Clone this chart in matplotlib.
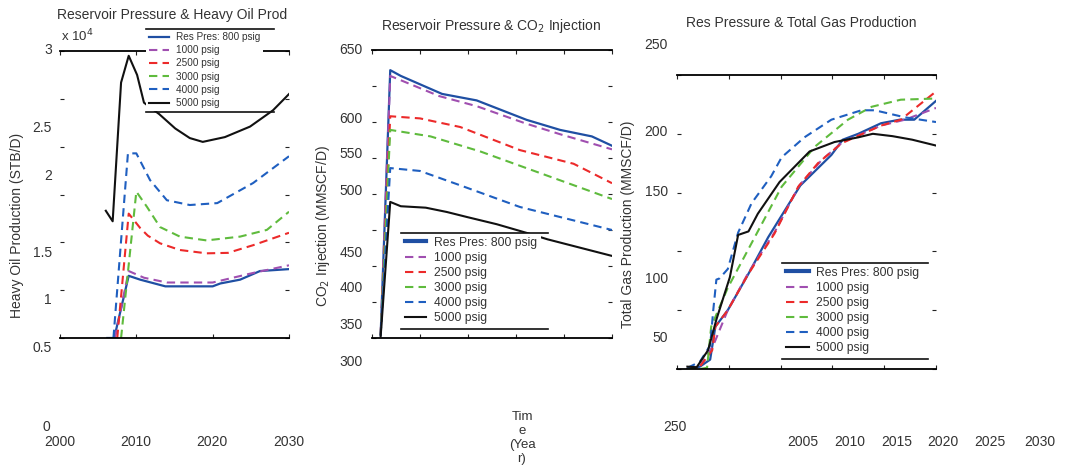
import matplotlib
matplotlib.use("Agg")
import matplotlib.pyplot as plt
from matplotlib.lines import Line2D

plt.rcParams['font.family'] = ['Liberation Sans', 'DejaVu Sans']
TXT = '#333333'

W, H = 1068, 466

# ---------------- data ----------------
labels = ['Res Pres: 800 psig', '1000 psig', '2500 psig', '3000 psig', '4000 psig', '5000 psig']
colors = ['#1f4fa3', '#a04fb0', '#ec2a2a', '#5fbb3d', '#1f5fc0', '#111111']
styles = ['-', '--', '--', '--', '--', '-']

# heavy oil production (x 10^4 STB/D)
oil_800_x = [2006.2, 2007.1, 2009.0, 2010.5, 2013.8, 2020.0, 2021.0, 2023.6, 2026.2, 2030.0]
oil_800_y = [0.0, 0.0, 0.65, 0.61, 0.54, 0.54, 0.57, 0.61, 0.70, 0.72]
oil_1000_x = [2007.2, 2009.0, 2011.0, 2014.0, 2020.0, 2025.3, 2030.0]
oil_1000_y = [0.0, 0.70, 0.63, 0.58, 0.58, 0.68, 0.76]
oil_2500_x = [2007.5, 2009.0, 2010.5, 2011.5, 2013.1, 2015.7, 2019.2, 2022.0, 2025.3, 2030.0]
oil_2500_y = [0.0, 1.30, 1.15, 1.07, 0.99, 0.92, 0.885, 0.89, 0.97, 1.10]
oil_3000_x = [2008.0, 2010.0, 2011.4, 2013.1, 2015.7, 2019.2, 2023.6, 2027.1, 2030.0]
oil_3000_y = [0.0, 1.53, 1.37, 1.16, 1.06, 1.02, 1.06, 1.13, 1.32]
oil_4000_x = [2007.0, 2008.9, 2010.0, 2011.8, 2014.0, 2017.0, 2020.6, 2025.3, 2030.0]
oil_4000_y = [0.0, 1.93, 1.93, 1.65, 1.44, 1.39, 1.41, 1.62, 1.90]
oil_5000_x = [2006.0, 2006.9, 2008.0, 2009.0, 2010.1, 2011.0, 2013.0, 2015.1, 2017.0,
              2018.7, 2021.6, 2024.9, 2027.9, 2030.0]
oil_5000_y = [1.33, 1.22, 2.67, 2.95, 2.75, 2.46, 2.34, 2.19, 2.09, 2.05, 2.10, 2.21, 2.38, 2.55]

# CO2 injection (MMSCF/D)
co2_800_x = [2005.9, 2006.9, 2008.0, 2012.3, 2015.9, 2021.1, 2024.6, 2027.9, 2030.0]
co2_800_y = [254, 622, 614, 589, 580, 553, 539, 530, 517]
co2_1000_x = [2005.9, 2006.9, 2008.0, 2012.0, 2015.9, 2021.0, 2024.6, 2030.0]
co2_1000_y = [254, 614, 608, 586, 572, 548, 533, 512]
co2_2500_x = [2005.9, 2006.9, 2010.0, 2014.2, 2020.4, 2026.0, 2030.0]
co2_2500_y = [254, 558, 555, 543, 511, 492, 465]
co2_3000_x = [2005.9, 2006.9, 2011.1, 2016.3, 2024.6, 2030.0]
co2_3000_y = [254, 539, 530, 509, 469, 443]
co2_4000_x = [2005.9, 2006.9, 2010.0, 2014.2, 2020.4, 2030.0]
co2_4000_y = [254, 486, 482, 462, 432, 400]
co2_5000_x = [2005.9, 2006.9, 2008.0, 2010.6, 2012.8, 2014.9, 2018.0, 2021.1, 2023.3, 2030.0]
co2_5000_y = [252, 439, 433, 431, 425, 418, 408, 396, 387, 364]

# total gas production (MMSCF/D)
gas_800_x = [2006.0, 2007.2, 2008.2, 2008.7, 2009.9, 2011.9, 2013.8, 2016.9, 2019.9,
             2021.0, 2022.5, 2024.7, 2026.5, 2027.9, 2030.0]
gas_800_y = [0, 2, 8, 36, 50, 81, 112, 156, 182, 195, 200, 209, 212, 212, 228]
gas_1000_x = [2006.0, 2007.2, 2008.5, 2009.9, 2011.9, 2014.4, 2016.8, 2019.0, 2021.0,
              2024.7, 2027.0, 2030.0]
gas_1000_y = [0, 2, 20, 50, 82, 116, 156, 178, 193, 207, 212, 222]
gas_2500_x = [2006.0, 2007.2, 2008.4, 2008.7, 2009.9, 2011.9, 2014.4, 2016.7, 2018.6,
              2020.9, 2024.7, 2026.6, 2030.0]
gas_2500_y = [0, 2, 16, 36, 50, 81, 115, 155, 175, 192, 207, 212, 236]
gas_3000_x = [2006.0, 2007.2, 2007.9, 2008.3, 2009.9, 2012.5, 2015.1, 2018.3, 2021.5,
              2023.8, 2026.6, 2030.0]
gas_3000_y = [0, 0, 1, 36, 69, 112, 155, 189, 212, 223, 229, 230]
gas_4000_x = [2006.0, 2007.2, 2008.2, 2008.5, 2008.8, 2009.1, 2009.9, 2010.9, 2012.2,
              2014.1, 2015.1, 2017.3, 2019.9, 2022.8, 2024.1, 2027.0, 2030.0]
gas_4000_y = [1, 6, 20, 50, 76, 77, 85, 116, 141, 164, 180, 197, 212, 220, 220, 214, 210]
gas_5000_x = [2006.0, 2006.9, 2008.0, 2008.8, 2010.1, 2010.9, 2011.9, 2012.8, 2014.9,
              2017.8, 2020.2, 2022.5, 2023.9, 2025.8, 2027.7, 2030.0]
gas_5000_y = [2, 1.5, 16, 42, 78, 114, 117, 132, 159, 185, 193, 197, 200, 198, 195, 190]

oil = [(oil_800_x, oil_800_y), (oil_1000_x, oil_1000_y), (oil_2500_x, oil_2500_y),
       (oil_3000_x, oil_3000_y), (oil_4000_x, oil_4000_y), (oil_5000_x, oil_5000_y)]
co2 = [(co2_800_x, co2_800_y), (co2_1000_x, co2_1000_y), (co2_2500_x, co2_2500_y),
       (co2_3000_x, co2_3000_y), (co2_4000_x, co2_4000_y), (co2_5000_x, co2_5000_y)]
gas = [(gas_800_x, gas_800_y), (gas_1000_x, gas_1000_y), (gas_2500_x, gas_2500_y),
       (gas_3000_x, gas_3000_y), (gas_4000_x, gas_4000_y), (gas_5000_x, gas_5000_y)]

# misplaced tick labels as they appear in the picture: (text, x px, y px, ha)
oil_ticklabels = [('3', 52, 50, 'right'), ('2.5', 52, 128, 'right'), ('2', 52, 176, 'right'),
                  ('1.5', 52, 253, 'right'), ('1', 52, 300, 'right'), ('0.5', 52, 348, 'right'),
                  ('0', 50, 427, 'right'), ('2000', 60, 442, 'center'), ('2010', 136, 442, 'center'),
                  ('2020', 212, 442, 'center'), ('2030', 289, 442, 'center')]
co2_ticklabels = [('650', 363, 50, 'right'), ('600', 363, 119, 'right'), ('550', 363, 154, 'right'),
                  ('500', 363, 191, 'right'), ('450', 363, 253, 'right'), ('400', 363, 288, 'right'),
                  ('350', 363, 325, 'right'), ('300', 363, 362, 'right')]
gas_ticklabels = [('250', 668, 45, 'right'), ('200', 668, 132, 'right'), ('150', 668, 192, 'right'),
                  ('100', 668, 279, 'right'), ('50', 668, 338, 'right'), ('250', 675, 427, 'center'),
                  ('2005', 803, 442, 'center'), ('2010', 850, 442, 'center'), ('2015', 897, 442, 'center'),
                  ('2020', 943, 442, 'center'), ('2025', 990, 442, 'center'), ('2030', 1040, 442, 'center')]


def fx(px):
    return px / W


def fy(py):
    return 1 - py / H


fig = plt.figure(figsize=(10.68, 4.66), dpi=100)


def panel(rect, series, xlim, xticks, ylim, yticks, lw800):
    left, top, right, bottom = rect
    ax = fig.add_axes([fx(left), fy(bottom), fx(right - left), (bottom - top) / H])
    for i, (xs, ys) in enumerate(series):
        lw = lw800 if i == 0 else 1.5
        if styles[i] == '--':
            ax.plot(xs, ys, color=colors[i], lw=lw, dashes=(4, 2.5), label=labels[i])
        else:
            ax.plot(xs, ys, color=colors[i], lw=lw, label=labels[i])
    ax.set_xlim(*xlim)
    ax.set_ylim(*ylim)
    ax.set_xticks(xticks)
    ax.set_yticks(yticks)
    ax.tick_params(direction='in', length=3, width=0.8, top=True, right=True,
                   labelleft=False, labelbottom=False, colors='#222222')
    ax.spines['left'].set_visible(False)
    ax.spines['right'].set_visible(False)
    ax.spines['top'].set_linewidth(1.3)
    ax.spines['bottom'].set_linewidth(1.3)
    ax.patch.set_alpha(0)
    return ax


def legend(ax, x0, x1, ytop, ybot, fs, spacing, hlen):
    leg = ax.legend(loc='upper left', bbox_to_anchor=(fx(x0), fy(ytop)),
                    bbox_transform=fig.transFigure, fontsize=fs, frameon=True,
                    fancybox=False, borderaxespad=0, borderpad=0.3, labelspacing=spacing,
                    handlelength=hlen, handletextpad=0.65)
    leg.get_frame().set_edgecolor('none')
    leg.get_frame().set_facecolor('white')
    leg.get_frame().set_alpha(1)
    for t in leg.get_texts():
        t.set_color(TXT)
    for yy in (ytop, ybot):
        fig.add_artist(Line2D([fx(x0), fx(x1)], [fy(yy), fy(yy)], transform=fig.transFigure,
                              color='#111111', lw=1.2))


def ticktext(items):
    for s, px, py, ha in items:
        fig.text(fx(px), fy(py), s, ha=ha, va='center', fontsize=10, color=TXT)


# panel 1: heavy oil
ax1 = panel((60, 51, 289, 338), oil, (2000, 2030), [2000, 2010, 2020, 2030], (0, 3),
            [0, 0.5, 1, 1.5, 2, 2.5, 3], 1.6)
legend(ax1, 146, 274, 29, 112, 7.2, 0.32, 2.0)
ticktext(oil_ticklabels)
fig.text(fx(172), fy(15), 'Reservoir Pressure & Heavy Oil Prod', ha='center', va='center',
         fontsize=10, color=TXT)
fig.text(fx(61), fy(36), r'x 10$^4$', ha='left', va='center', fontsize=9.5, color=TXT)
fig.text(fx(17), fy(225), 'Heavy Oil Production (STB/D)', rotation=90, ha='center',
         va='center', fontsize=10, color=TXT)

# panel 2: CO2 injection
ax2 = panel((372, 50, 612, 338), co2, (2005, 2030), [2005, 2010, 2015, 2020, 2025, 2030],
            (250, 650), list(range(250, 651, 50)), 1.6)
legend(ax2, 401, 548, 233, 329, 8.7, 0.26, 1.8)
ax2.get_legend().legend_handles[0].set_linewidth(3)
ticktext(co2_ticklabels)
fig.text(fx(491), fy(26), r'Reservoir Pressure & CO$_2$ Injection', ha='center', va='center',
         fontsize=10, color=TXT)
fig.text(fx(323), fy(226), r'CO$_2$ Injection (MMSCF/D)', rotation=90, ha='center',
         va='center', fontsize=10, color=TXT)
fig.text(fx(522), fy(438), 'Tim\ne\n(Yea\nr)', ha='center', va='center', fontsize=9.5,
         color=TXT, linespacing=1.2)

# panel 3: total gas
ax3 = panel((677, 75, 936, 369), gas, (2005, 2030), [2005, 2010, 2015, 2020, 2025, 2030],
            (0, 250), [0, 50, 100, 150, 200, 250], 1.6)
legend(ax3, 782, 928, 263, 359, 8.7, 0.26, 1.9)
ax3.get_legend().legend_handles[0].set_linewidth(3)
ticktext(gas_ticklabels)
fig.text(fx(801), fy(23), 'Res Pressure & Total Gas Production', ha='center', va='center',
         fontsize=10, color=TXT)
fig.text(fx(628), fy(224), 'Total Gas Production (MMSCF/D)', rotation=90, ha='center',
         va='center', fontsize=10, color=TXT)

fig.savefig('out.png', dpi=100)
